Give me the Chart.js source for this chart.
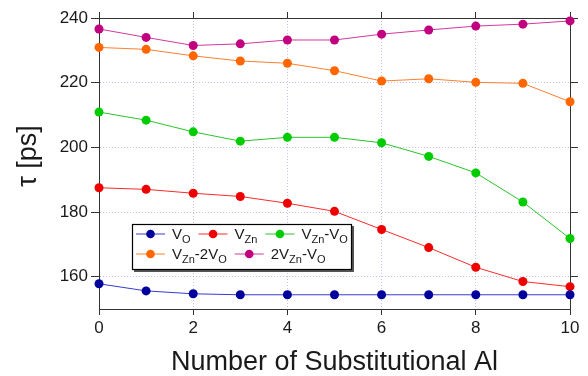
<!DOCTYPE html>
<html>
<head>
<meta charset="utf-8">
<script src="https://cdn.jsdelivr.net/npm/chart.js@4/dist/chart.umd.min.js"></script>
<style>
  html,body{margin:0;padding:0;background:#fff}
  #wrap{width:588px;height:376px}
</style>
</head>
<body>
<div id="wrap"><canvas id="grafica" width="588" height="376"></canvas></div>
<script>
// values
let nAl = [0,1,2,3,4,5,6,7,8,9,10]
let vO     = [157.8,155.6,154.7,154.4,154.4,154.4,154.4,154.4,154.4,154.4,154.4]
let vZn    = [187.5,187.0,185.8,184.8,182.7,180.2,174.6,169.0,162.9,158.5,156.9]
let vZnVO  = [210.9,208.4,204.8,201.9,203.1,203.1,201.4,197.2,192.1,183.1,171.8]
let vZn2VO = [230.9,230.3,228.3,226.7,226.0,223.7,220.5,221.2,220.1,219.8,214.1]
let v2ZnVO = [236.6,234.0,231.5,232.0,233.2,233.2,235.0,236.3,237.5,238.1,239.1]
let names = ['V_{O}','V_{Zn}','V_{Zn}-V_{O}','V_{Zn}-2V_{O}','2V_{Zn}-V_{O}']
let xTicks = [0,2,4,6,8,10]
let yTicks = [160,180,200,220,240]

let dotColors  = ['#00009c','#ee0000','#00cc00','#ff6600','#c0007f']
let lineColors = ['#3a3ad0','#ff2a2a','#2ac42a','#ff8030','#d03aa0']
let series = [vO,vZn,vZnVO,vZn2VO,v2ZnVO]

let ink = '#1a1a1a'
let axisCol = '#333'
let gridCol = 'rgba(140,140,225,0.55)'

let datasets = series.map((s,i)=>({
    label: names[i],
    data: nAl.map((x,j)=>({x:x, y:s[j]})),
    borderColor: lineColors[i],
    backgroundColor: dotColors[i],
    pointBackgroundColor: dotColors[i],
    pointBorderWidth: 0,
    pointRadius: 4.5,
    borderWidth: 1,
    clip: false
}))

// draws "V_{Zn}" style text with subscripts
function richText(ctx, str, x, y){
    let parts = str.split(/_\{([^}]*)\}/)
    parts.forEach((p,i)=>{
        if(!p) return
        let sub = i % 2 == 1
        ctx.font = sub ? '11px Arial' : '15px Arial'
        ctx.fillText(p, x, sub ? y+4 : y)
        x += ctx.measureText(p).width
    })
    return x
}

let legendBox = {
    id: 'legendBox',
    afterDraw(chart){
        let ctx = chart.ctx
        let a = chart.chartArea
        let left = a.left + 33, top = a.top + 206, w = 220, h = 46
        ctx.save()
        ctx.fillStyle = '#555'
        ctx.fillRect(left+2, top+2, w, h)
        ctx.fillStyle = '#fff'
        ctx.fillRect(left, top, w, h)
        ctx.strokeStyle = '#000'
        ctx.lineWidth = 1.2
        ctx.strokeRect(left+0.5, top+0.5, w-1, h-1)
        let rows = [[0,1,2],[3,4]]
        rows.forEach((row,r)=>{
            let cy = top + 10 + r*20
            let x = left + 4
            row.forEach(i=>{
                ctx.strokeStyle = lineColors[i]
                ctx.lineWidth = 1
                ctx.beginPath()
                ctx.moveTo(x, cy)
                ctx.lineTo(x+29, cy)
                ctx.stroke()
                ctx.fillStyle = dotColors[i]
                ctx.beginPath()
                ctx.arc(x+14.5, cy, 4.3, 0, Math.PI*2)
                ctx.fill()
                ctx.fillStyle = ink
                ctx.textBaseline = 'alphabetic'
                let end = richText(ctx, names[i], x+36, cy+5)
                x = end + 8
            })
        })
        ctx.restore()
    }
}

let tickFont = {family:'Arial', size:17}
let titleFont = {family:'Arial', size:27, lineHeight:1}

let chart = new Chart(document.getElementById('grafica'), {
    type: 'line',
    data: {datasets: datasets},
    plugins: [legendBox],
    options: {
        responsive: false,
        animation: false,
        layout: {padding: 0},
        plugins: {legend: {display:false}, tooltip: {enabled:false}},
        scales: {
            x: {
                type: 'linear', position: 'bottom', min: 0, max: 10,
                afterBuildTicks: s => { s.ticks = xTicks.map(v=>({value:v})) },
                afterFit: s => { s.height = 67 },
                grid: {color: gridCol, tickColor: axisCol, tickLength: 6, tickBorderDash: []},
                border: {color: axisCol, width: 1, dash: [1,2]},
                ticks: {color: ink, font: tickFont, padding: 3, maxRotation: 0},
                title: {display: true, text: 'Number of Substitutional Al', color: ink, font: titleFont, padding: 0}
            },
            x2: {
                type: 'linear', position: 'top', min: 0, max: 10,
                afterBuildTicks: s => { s.ticks = xTicks.map(v=>({value:v})) },
                afterFit: s => { s.height = 18 },
                grid: {drawOnChartArea: false, tickColor: axisCol, tickLength: 6},
                border: {color: axisCol, width: 1},
                ticks: {display: false}
            },
            y: {
                type: 'linear', position: 'left', min: 150, max: 240,
                afterBuildTicks: s => { s.ticks = yTicks.map(v=>({value:v})) },
                afterFit: s => { s.width = 99 },
                grid: {color: gridCol, tickColor: axisCol, tickLength: 8, tickBorderDash: []},
                border: {color: axisCol, width: 1, dash: [1,2]},
                ticks: {color: ink, font: tickFont, padding: 3},
                // two leading spaces nudge the visible label up a bit, like the original
                title: {display: true, text: '  τ [ps]', color: ink, font: titleFont, padding: {top: 15, bottom: 0}}
            },
            y2: {
                type: 'linear', position: 'right', min: 150, max: 240,
                afterBuildTicks: s => { s.ticks = yTicks.map(v=>({value:v})) },
                afterFit: s => { s.width = 18 },
                grid: {drawOnChartArea: false, tickColor: axisCol, tickLength: 8},
                border: {color: axisCol, width: 1},
                ticks: {display: false}
            }
        }
    }
})
</script>
</body>
</html>
